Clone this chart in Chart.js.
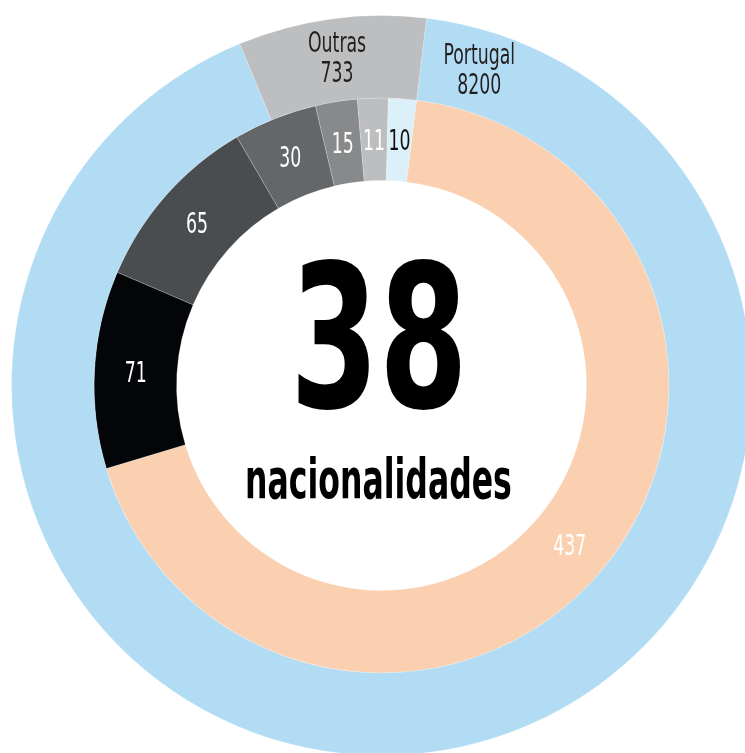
<!DOCTYPE html>
<html>
<head>
<meta charset="utf-8">
<script src="https://cdn.jsdelivr.net/npm/chart.js@4"></script>
<style>
  html, body { margin: 0; padding: 0; background: #fff; overflow: hidden; width: 745px; height: 753px; }
  #chart { position: absolute; left: 11px; top: 15px; }
</style>
</head>
<body>
<canvas id="chart" width="741" height="741"></canvas>
<script>
// outer ring
const outerLabels = ["Portugal", "Outras"];
const outerValues = [8200, 733];
// inner ring (the nationalities)
const innerValues = [437, 71, 65, 30, 15, 11, 10];
const centerCount = "38";
const centerText = "nacionalidades";

const outerColors = ["#b1dcf4", "#bdbec0"];
const innerColors = ["#fad0b0", "#030508", "#4a4d50", "#646769", "#87898b", "#bdbec0", "#dbf0f8"];
const innerTextColors = ["#fff", "#fff", "#fff", "#fff", "#fff", "#fff", "#111"];
const FONT = "'Liberation Sans Narrow', 'DejaVu Sans Condensed', 'Liberation Sans', sans-serif";

// draw text squeezed horizontally so it looks like a condensed face
function drawCondensed(ctx, text, x, y, sx, color) {
  ctx.save();
  ctx.translate(x, y);
  ctx.scale(sx, 1);
  ctx.fillStyle = color;
  ctx.textAlign = "center";
  ctx.textBaseline = "alphabetic";
  ctx.fillText(text, 0, 0);
  ctx.restore();
}

const labelPlugin = {
  id: "labels",
  afterDatasetsDraw(chart) {
    const ctx = chart.ctx;
    const size = 29;
    ctx.font = "400 " + size + "px " + FONT;
    const sx = (0.38 * size) / ctx.measureText("0").width;
    const cap = size * 0.36;

    // inner ring values at the arc centroids
    const inner = chart.getDatasetMeta(1);
    inner.data.forEach((arc, i) => {
      const p = arc.tooltipPosition();
      ctx.font = "400 " + size + "px " + FONT;
      drawCondensed(ctx, String(innerValues[i]), p.x, p.y + cap, sx, innerTextColors[i]);
    });

    // outer ring: name + value
    const outer = chart.getDatasetMeta(0);
    outer.data.forEach((arc, i) => {
      const a = arc.getProps(["x", "y", "startAngle", "endAngle", "innerRadius", "outerRadius"]);
      const r = (a.innerRadius + a.outerRadius) / 2;
      // Portugal label sits near the start of its slice, Outras at the middle
      const ang = i === 0 ? a.startAngle + 10.3 * Math.PI / 180 : (a.startAngle + a.endAngle) / 2;
      const x = a.x + Math.cos(ang) * r;
      const y = a.y + Math.sin(ang) * r;
      ctx.font = "400 " + size + "px " + FONT;
      drawCondensed(ctx, outerLabels[i], x, y - 7.5, sx, "#231f20");
      drawCondensed(ctx, String(outerValues[i]), x, y + 22.5, sx, "#231f20");
    });

    // centre
    const c = outer.data[0];
    const cx = c.x, cy = c.y;
    ctx.font = "700 200px " + FONT;
    let m = ctx.measureText(centerCount);
    let ink = m.actualBoundingBoxLeft + m.actualBoundingBoxRight;
    drawCondensed(ctx, centerCount, cx - 2.5, cy + 21.5, 162 / ink, "#000");

    ctx.font = "700 56px " + FONT;
    m = ctx.measureText(centerText);
    ink = m.actualBoundingBoxLeft + m.actualBoundingBoxRight;
    drawCondensed(ctx, centerText, cx - 3, cy + 112.5, 263 / ink, "#000");
  }
};

new Chart(document.getElementById("chart"), {
  type: "doughnut",
  data: {
    labels: outerLabels,
    datasets: [
      {
        data: outerValues,
        backgroundColor: outerColors,
        borderColor: "rgba(255,255,255,0.2)",
        borderWidth: 1
      },
      {
        data: innerValues,
        backgroundColor: innerColors,
        borderColor: "rgba(255,255,255,0.2)",
        borderWidth: 1
      }
    ]
  },
  options: {
    responsive: false,
    animation: false,
    rotation: 7,
    cutout: "55.4%",
    hoverOffset: 0,
    layout: { padding: 0 },
    plugins: {
      legend: { display: false },
      tooltip: { enabled: false },
      title: { display: false }
    }
  },
  plugins: [labelPlugin]
});
</script>
</body>
</html>
